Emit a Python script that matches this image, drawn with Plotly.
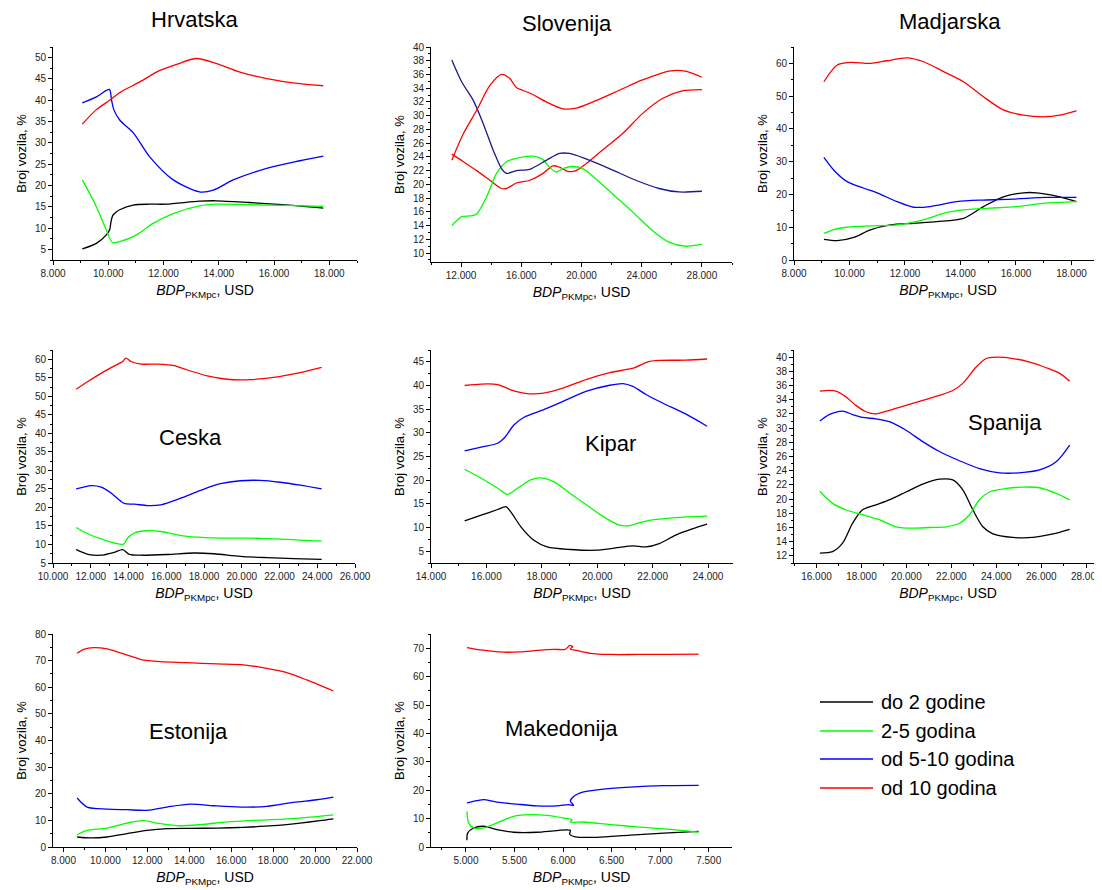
import plotly.graph_objects as go

W, H = 1102, 890

# ---------------- DATA ----------------
# Hrvatska
hr_black_x = [9060, 9570, 9930, 10050, 10100, 10160, 10300, 10415, 10900, 11500, 12100, 13300, 13900, 15100, 16300, 17780]
hr_black_y = [5.1, 6.4, 8.4, 9.6, 11.5, 12.9, 13.8, 14.3, 15.4, 15.6, 15.6, 16.3, 16.4, 16.0, 15.5, 14.7]
hr_green_x = [9060, 9570, 9930, 10150, 10415, 11020, 11620, 12350, 13300, 13900, 15100, 16300, 17780]
hr_green_y = [21.3, 15.0, 9.5, 6.6, 6.8, 8.4, 11.1, 13.4, 15.2, 15.6, 15.5, 15.3, 15.1]
hr_blue_x = [9060, 9570, 9930, 10050, 10120, 10200, 10420, 10900, 11500, 12350, 13300, 13800, 14520, 15730, 16940, 17780]
hr_blue_y = [39.4, 40.8, 42.3, 42.5, 40.0, 37.8, 35.3, 32.4, 26.7, 21.3, 18.5, 18.9, 21.3, 24.0, 25.8, 26.9]
hr_red_x = [9060, 9570, 10050, 10415, 11140, 11865, 12500, 13190, 13918, 14763, 15730, 16937, 17780]
hr_red_y = [34.4, 37.8, 40.0, 41.8, 44.3, 47.0, 48.5, 49.8, 48.6, 46.6, 45.1, 43.9, 43.4]

# Slovenija
si_lower_x = [11383, 12154, 13035, 13916, 14687, 15018, 15678, 16560, 17440, 18100, 18540, 19090, 19643, 20300, 21400, 22730, 24050, 25370, 26690, 28000]
si_lower_y = [24.4, 23.3, 22.0, 20.6, 19.4, 19.4, 20.2, 20.6, 21.6, 22.7, 22.5, 21.9, 22.0, 23.0, 25.0, 27.4, 30.3, 32.5, 33.6, 33.8]
si_green_x = [11383, 12044, 12595, 13035, 13696, 14357, 15018, 15900, 16780, 17440, 17880, 18320, 18760, 19420, 20080, 20965, 22070, 23390, 24700, 25810, 26900, 28000]
si_green_y = [14.0, 15.3, 15.4, 15.7, 18.2, 21.6, 23.3, 23.9, 24.1, 23.6, 22.5, 21.8, 22.3, 22.6, 22.3, 20.8, 18.6, 16.0, 13.3, 11.6, 11.0, 11.3]
si_blue_x = [11383, 12044, 12815, 13476, 14137, 14687, 15018, 15678, 16560, 17660, 18540, 19200, 20300, 21850, 23610, 25150, 26470, 28000]
si_blue_y = [38.1, 34.9, 32.2, 28.8, 24.95, 22.3, 21.6, 22.0, 22.2, 23.5, 24.5, 24.5, 23.7, 22.3, 20.6, 19.4, 18.9, 19.0]
si_red_x = [11383, 12154, 13035, 13916, 14687, 15238, 15678, 16560, 17660, 18762, 19643, 20965, 22507, 24050, 25810, 26900, 28000]
si_red_y = [23.5, 27.4, 30.8, 34.4, 36.0, 35.4, 34.1, 33.3, 32.0, 31.0, 31.1, 32.2, 33.7, 35.2, 36.5, 36.5, 35.6]

# Madjarska
hu_black_x = [9078, 9557, 10156, 10754, 11473, 12311, 13150, 14108, 14826, 15545, 16263, 16742, 17461, 18180]
hu_black_y = [6.3, 5.9, 6.9, 9.2, 10.7, 11.2, 11.7, 12.7, 16.3, 19.3, 20.5, 20.5, 19.5, 17.8]
hu_green_x = [9078, 9437, 9916, 10754, 11713, 12551, 13509, 14108, 15066, 16024, 16982, 18180]
hu_green_y = [8.1, 9.3, 10.0, 10.4, 10.7, 12.0, 14.5, 15.3, 15.8, 16.3, 17.3, 17.8]
hu_blue_x = [9078, 9437, 9916, 10515, 10994, 11713, 12311, 12910, 13868, 14826, 15904, 17102, 18180]
hu_blue_y = [31.3, 27.4, 23.9, 21.9, 20.5, 17.8, 16.1, 16.3, 17.8, 18.3, 18.6, 19.1, 19.1]
hu_red_x = [9078, 9557, 10036, 10754, 11353, 12072, 12670, 13390, 14108, 14826, 15545, 16263, 16982, 17580, 18180]
hu_red_y = [54.4, 59.5, 60.3, 60.0, 60.8, 61.7, 60.5, 57.5, 54.4, 49.8, 45.8, 44.2, 43.7, 44.2, 45.5]

# Ceska
cz_black_x = [11230, 11845, 12548, 13251, 13690, 14042, 14657, 16063, 17469, 18524, 19930, 21336, 22742, 24235]
cz_black_y = [8.6, 7.35, 7.1, 7.9, 8.6, 7.35, 7.1, 7.3, 7.7, 7.5, 6.8, 6.45, 6.2, 6.0]
cz_green_x = [11230, 11845, 12548, 13251, 13743, 13954, 14306, 15009, 15712, 16415, 17118, 18524, 20457, 22390, 24235]
cz_green_y = [14.6, 12.9, 11.5, 10.4, 10.1, 11.75, 13.1, 13.7, 13.5, 12.8, 12.2, 11.8, 11.7, 11.4, 10.9]
cz_blue_x = [11230, 12021, 12548, 13075, 13603, 13814, 14306, 15009, 15712, 16766, 17821, 18875, 19930, 20984, 22039, 23093, 24235]
cz_blue_y = [25.0, 25.9, 25.5, 23.9, 21.6, 21.0, 20.9, 20.5, 20.7, 22.5, 24.6, 26.4, 27.2, 27.3, 26.8, 26.0, 25.0]
cz_red_x = [11230, 11845, 12548, 13251, 13690, 13866, 14130, 14657, 15536, 16415, 17118, 18172, 19227, 20457, 21687, 23093, 24235]
cz_red_y = [51.9, 54.0, 56.2, 58.2, 59.4, 60.3, 59.4, 58.7, 58.7, 58.3, 57.1, 55.5, 54.6, 54.5, 55.1, 56.4, 57.8]

# Kipar
cy_black_x = [15214, 15810, 16405, 16702, 16881, 17238, 17714, 18190, 19024, 19976, 20810, 21286, 21762, 22238, 22833, 23428, 23964]
cy_black_y = [11.4, 12.6, 13.8, 14.4, 13.3, 10.2, 7.3, 5.9, 5.35, 5.2, 5.8, 6.1, 5.9, 6.6, 8.4, 9.7, 10.7]
cy_green_x = [15214, 15810, 16405, 16762, 17119, 17595, 17952, 18428, 19024, 19619, 20214, 20810, 21167, 21643, 22119, 22833, 23964]
cy_green_y = [22.3, 20.4, 18.3, 17.0, 18.3, 20.05, 20.5, 19.7, 17.2, 14.75, 12.3, 10.5, 10.4, 11.2, 11.7, 12.1, 12.4]
cy_blue_x = [15214, 15810, 16405, 16643, 17000, 17357, 18071, 18786, 19619, 20452, 20929, 21286, 21762, 22357, 23190, 23964]
cy_blue_y = [26.2, 27.0, 27.8, 28.9, 31.7, 33.3, 34.9, 36.7, 38.8, 40.05, 40.4, 39.8, 38.1, 36.3, 34.0, 31.4]
cy_red_x = [15214, 15810, 16405, 16881, 17476, 18071, 18786, 19619, 20452, 21167, 21405, 21821, 22238, 23190, 23964]
cy_red_y = [40.0, 40.3, 40.2, 39.1, 38.3, 38.4, 39.5, 41.3, 42.7, 43.5, 43.9, 45.0, 45.3, 45.35, 45.6]

# Spanija
es_black_x = [16149, 16713, 17160, 17605, 18051, 18645, 19239, 19982, 20725, 21468, 22062, 22508, 22954, 23400, 23846, 24737, 25628, 26520, 27263]
es_black_y = [12.4, 12.6, 13.8, 16.6, 18.5, 19.2, 19.9, 21.0, 22.1, 22.8, 22.7, 21.3, 18.5, 16.1, 15.1, 14.6, 14.6, 15.1, 15.75]
es_green_x = [16149, 16713, 17308, 18051, 18793, 19536, 20279, 21022, 21765, 22360, 22805, 23250, 23696, 24440, 25183, 25920, 26660, 27263]
es_green_y = [21.1, 19.4, 18.5, 17.8, 17.1, 16.1, 15.9, 16.0, 16.1, 16.6, 17.8, 19.9, 21.0, 21.5, 21.7, 21.6, 20.8, 19.9]
es_blue_x = [16149, 16565, 17160, 17605, 18051, 18645, 19239, 19982, 20725, 21468, 22360, 23250, 24140, 25030, 25920, 26660, 27263]
es_blue_y = [31.0, 31.9, 32.4, 31.9, 31.5, 31.3, 30.9, 29.7, 28.1, 26.7, 25.4, 24.3, 23.7, 23.7, 24.1, 25.25, 27.6]
es_red_x = [16149, 16565, 16862, 17308, 17753, 18199, 18645, 19239, 19982, 20725, 21468, 22062, 22508, 23102, 23548, 23994, 24737, 25480, 26223, 26817, 27263]
es_red_y = [35.2, 35.3, 35.2, 34.4, 33.2, 32.3, 32.0, 32.5, 33.2, 33.9, 34.6, 35.3, 36.3, 38.6, 39.8, 40.0, 39.8, 39.3, 38.5, 37.7, 36.6]

# Estonija
ee_black_x = [8651, 9286, 10079, 11032, 11984, 12937, 14048, 15317, 16587, 18016, 19286, 20238, 20873]
ee_black_y = [3.75, 3.4, 3.75, 5.0, 6.25, 6.9, 7.0, 7.1, 7.4, 8.0, 9.0, 9.9, 10.6]
ee_green_x = [8651, 9127, 10079, 11032, 11825, 12460, 13413, 14524, 15794, 17063, 18492, 19762, 20873]
ee_green_y = [4.6, 6.25, 7.1, 9.0, 9.9, 9.0, 8.0, 8.4, 9.4, 10.0, 10.5, 11.25, 12.1]
ee_blue_x = [8651, 9127, 10079, 11032, 11984, 12937, 14048, 15159, 16429, 17698, 18968, 20079, 20873]
ee_blue_y = [18.4, 15.0, 14.25, 14.0, 13.75, 15.0, 16.1, 15.5, 15.0, 15.25, 16.75, 17.75, 18.75]
ee_red_x = [8651, 8968, 9444, 10079, 10873, 11667, 12619, 13889, 15317, 16587, 17698, 18651, 19603, 20873]
ee_red_y = [72.75, 74.25, 74.9, 74.4, 72.5, 70.5, 69.6, 69.25, 68.75, 68.4, 67.1, 65.5, 62.75, 58.6]

# Makedonija
mk_black_x = [5010, 5017, 5079, 5182, 5319, 5491, 5731, 5937, 6075, 6068, 6126, 6349, 6693, 7036, 7397]
mk_black_y = [2.4, 4.9, 6.7, 7.3, 6.1, 5.2, 5.2, 5.8, 5.9, 4.5, 3.6, 3.4, 4.2, 4.9, 5.5]
mk_green_x = [5010, 5027, 5079, 5182, 5319, 5491, 5663, 5834, 6006, 6092, 6075, 6212, 6487, 6762, 7105, 7397]
mk_green_y = [12.6, 8.5, 6.7, 6.7, 8.5, 10.8, 11.4, 11.15, 10.2, 9.6, 8.8, 8.8, 7.9, 7.1, 6.2, 5.2]
mk_blue_x = [5010, 5113, 5182, 5319, 5525, 5731, 5937, 6058, 6109, 6075, 6109, 6212, 6418, 6693, 7036, 7397]
mk_blue_y = [15.5, 16.3, 16.7, 15.8, 15.1, 14.5, 14.5, 14.9, 14.7, 16.1, 17.8, 19.4, 20.4, 21.1, 21.6, 21.7]
mk_red_x = [5010, 5148, 5388, 5560, 5731, 5903, 6023, 6070, 6100, 6075, 6144, 6281, 6487, 6762, 7105, 7397]
mk_red_y = [70.2, 69.4, 68.6, 68.7, 69.2, 69.6, 69.6, 71.0, 70.5, 69.8, 69.2, 68.2, 67.8, 67.8, 67.8, 67.9]

series_names = ["do 2 godine", "2-5 godina", "od 5-10 godina", "od 10 godina"]
series_colors = ["#000000", "#00ff00", "#0000ff", "#ff0000"]
y_title = "Broj vozila, %"
x_title = "<i>BDP</i><sub>PKMpc</sub>, USD"

# ---------------- LAYOUT ----------------
FONT = "Arial, Liberation Sans, sans-serif"
OFF = 8                      # default page body margin in the written HTML
FW, FH = W - OFF, H - OFF    # figure size so that it fills the window exactly

def px(x):
    return (x - OFF) / FW

def py(y):
    return 1 - (y - OFF) / FH

panels = [
    dict(label="Hrvatska", lab=(195, 19), xdom=(53, 357), ydom=(47, 260), xr=(8000, 19000), xd=2000, xm=1000,
         yr=(2.5, 52.5), yd=5, ym=2.5,
         s=[(hr_black_x, hr_black_y, "#000000"), (hr_green_x, hr_green_y, "#00ff00"),
            (hr_blue_x, hr_blue_y, "#0000ff"), (hr_red_x, hr_red_y, "#ff0000")]),
    dict(label="Slovenija", lab=(567, 24), xdom=(431, 732), ydom=(47, 262), xr=(10000, 30000), xd=4000, xm=2000,
         yr=(8.7, 40), yd=2, ym=1,
         s=[(si_lower_x, si_lower_y, "#ff0000"), (si_green_x, si_green_y, "#00ff00"),
            (si_blue_x, si_blue_y, "#1a1a8a"), (si_red_x, si_red_y, "#ff0000")]),
    dict(label="Madjarska", lab=(950, 22), xdom=(794, 1102), ydom=(47, 260), xr=(8000, 19100), xd=2000, xm=1000,
         yr=(0, 65), yd=10, ym=5,
         s=[(hu_black_x, hu_black_y, "#000000"), (hu_green_x, hu_green_y, "#00ff00"),
            (hu_blue_x, hu_blue_y, "#0000ff"), (hu_red_x, hu_red_y, "#ff0000")]),
    dict(label="Ceska", lab=(190, 437), xdom=(53, 355), ydom=(350, 563), xr=(10000, 26000), xd=2000, xm=1000,
         yr=(5, 62.5), yd=5, ym=2.5,
         s=[(cz_black_x, cz_black_y, "#000000"), (cz_green_x, cz_green_y, "#00ff00"),
            (cz_blue_x, cz_blue_y, "#0000ff"), (cz_red_x, cz_red_y, "#ff0000")]),
    dict(label="Kipar", lab=(610, 443), xdom=(431, 733), ydom=(350, 563), xr=(14000, 24900), xd=2000, xm=1000,
         yr=(2.5, 47.5), yd=5, ym=2.5,
         s=[(cy_black_x, cy_black_y, "#000000"), (cy_green_x, cy_green_y, "#00ff00"),
            (cy_blue_x, cy_blue_y, "#0000ff"), (cy_red_x, cy_red_y, "#ff0000")]),
    dict(label="Spanija", lab=(1005, 422), xdom=(794, 1102), ydom=(350, 563), xr=(15000, 28700), xd=2000, xm=1000,
         yr=(11, 41), yd=2, ym=1,
         s=[(es_black_x, es_black_y, "#000000"), (es_green_x, es_green_y, "#00ff00"),
            (es_blue_x, es_blue_y, "#0000ff"), (es_red_x, es_red_y, "#ff0000")]),
    dict(label="Estonija", lab=(188, 731), xdom=(53, 357), ydom=(634, 847), xr=(7500, 22000), xd=2000, xm=1000,
         yr=(0, 80), yd=10, ym=5,
         s=[(ee_black_x, ee_black_y, "#000000"), (ee_green_x, ee_green_y, "#00ff00"),
            (ee_blue_x, ee_blue_y, "#0000ff"), (ee_red_x, ee_red_y, "#ff0000")]),
    dict(label="Makedonija", lab=(562, 728), xdom=(431, 732), ydom=(634, 847), xr=(4640, 7740), xd=500, xm=250,
         yr=(0, 75), yd=10, ym=5,
         s=[(mk_black_x, mk_black_y, "#000000"), (mk_green_x, mk_green_y, "#00ff00"),
            (mk_blue_x, mk_blue_y, "#0000ff"), (mk_red_x, mk_red_y, "#ff0000")]),
]

fig = go.Figure()
layout = dict(
    width=FW, height=FH, margin=dict(l=0, r=0, t=0, b=0, autoexpand=False),
    paper_bgcolor="white", plot_bgcolor="white", showlegend=False,
    separators=",.", font=dict(family=FONT, color="#000000"),
    annotations=[], shapes=[],
)

for i, p in enumerate(panels):
    k = "" if i == 0 else str(i + 1)
    xa, ya = "x" + k, "y" + k
    for (xs, ys, col) in p["s"]:
        fig.add_trace(go.Scatter(x=xs, y=ys, mode="lines", xaxis=xa, yaxis=ya,
                                 line=dict(color=col, width=1.3, shape="spline", smoothing=0.8),
                                 hoverinfo="skip", cliponaxis=False))
    common = dict(showgrid=False, zeroline=False, showline=True, linecolor="black", linewidth=1,
                  ticks="outside", ticklen=4, tickwidth=1, tickcolor="black", automargin=False,
                  tickfont=dict(family=FONT, size=10, color="#222222"))
    layout["xaxis" + k] = dict(
        common, domain=[max(0, px(p["xdom"][0])), min(1, px(p["xdom"][1]))], anchor=ya, range=list(p["xr"]),
        dtick=p["xd"], tick0=0, tickformat=",d",
        minor=dict(dtick=p["xm"], tick0=0, ticks="outside", ticklen=2, tickcolor="black"),
        title=dict(text=x_title, font=dict(family=FONT, size=14), standoff=7))
    layout["yaxis" + k] = dict(
        common, domain=[max(0, py(p["ydom"][1])), min(1, py(p["ydom"][0]))], anchor=xa, range=list(p["yr"]),
        dtick=p["yd"], tick0=0,
        minor=dict(dtick=p["ym"], tick0=0, ticks="outside", ticklen=2, tickcolor="black"),
        title=dict(text=y_title, font=dict(family=FONT, size=13), standoff=5))
    layout["annotations"].append(dict(
        text=p["label"], x=px(p["lab"][0]), y=py(p["lab"][1]), xref="paper", yref="paper",
        xanchor="center", yanchor="middle", showarrow=False,
        font=dict(family=FONT, size=22, color="black")))

# legend (bottom-right empty cell)
leg_rows = [702, 731, 759, 788]
for name, col, yy in zip(series_names, series_colors, leg_rows):
    layout["shapes"].append(dict(type="line", xref="paper", yref="paper",
                                 x0=px(820), x1=px(873), y0=py(yy), y1=py(yy),
                                 line=dict(color=col, width=1.3)))
    layout["annotations"].append(dict(text=name, x=px(879), y=py(yy), xref="paper", yref="paper",
                                      xanchor="left", yanchor="middle", showarrow=False,
                                      font=dict(family=FONT, size=20, color="black")))

fig.update_layout(**layout)
fig.write_html("out.html")
